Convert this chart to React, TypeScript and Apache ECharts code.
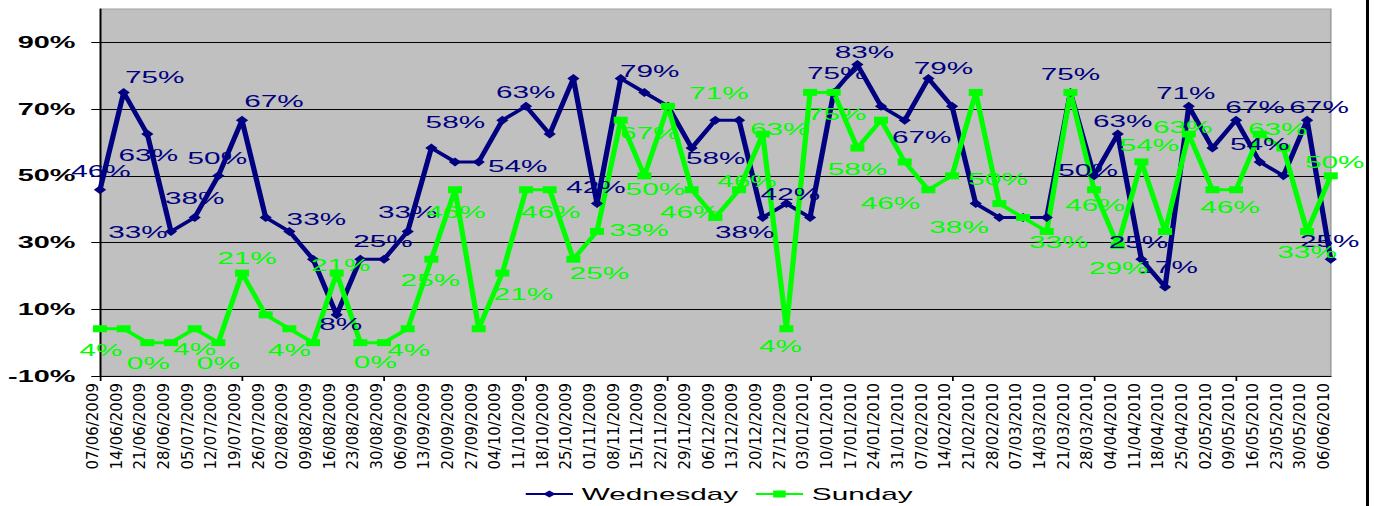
import React, { useEffect, useRef } from "react";
import * as echarts from "echarts";

const categories = [
  "07/06/2009", "14/06/2009", "21/06/2009", "28/06/2009", "05/07/2009", "12/07/2009", "19/07/2009",
  "26/07/2009", "02/08/2009", "09/08/2009", "16/08/2009", "23/08/2009", "30/08/2009", "06/09/2009",
  "13/09/2009", "20/09/2009", "27/09/2009", "04/10/2009", "11/10/2009", "18/10/2009", "25/10/2009",
  "01/11/2009", "08/11/2009", "15/11/2009", "22/11/2009", "29/11/2009", "06/12/2009", "13/12/2009",
  "20/12/2009", "27/12/2009", "03/01/2010", "10/01/2010", "17/01/2010", "24/01/2010", "31/01/2010",
  "07/02/2010", "14/02/2010", "21/02/2010", "28/02/2010", "07/03/2010", "14/03/2010", "21/03/2010",
  "28/03/2010", "04/04/2010", "11/04/2010", "18/04/2010", "25/04/2010", "02/05/2010", "09/05/2010",
  "16/05/2010", "23/05/2010", "30/05/2010", "06/06/2010",
];

const wednesday = [
  45.83, 75, 62.5, 33.33, 37.5, 50, 66.67, 37.5, 33.33, 25, 8.33, 25, 25, 33.33,
  58.33, 54.17, 54.17, 66.67, 70.83, 62.5, 79.17, 41.67, 79.17, 75, 70.83, 58.33, 66.67, 66.67,
  37.5, 41.67, 37.5, 75, 83.33, 70.83, 66.67, 79.17, 70.83, 41.67, 37.5, 37.5, 37.5, 75,
  50, 62.5, 25, 16.67, 70.83, 58.33, 66.67, 54.17, 50, 66.67, 25,
];

const sunday = [
  4.17, 4.17, 0, 0, 4.17, 0, 20.83, 8.33, 4.17, 0, 20.83, 0, 0, 4.17,
  25, 45.83, 4.17, 20.83, 45.83, 45.83, 25, 33.33, 66.67, 50, 70.83, 45.83, 37.5, 45.83,
  62.5, 4.17, 75, 75, 58.33, 66.67, 54.17, 45.83, 50, 75, 41.67, 37.5, 33.33, 75,
  45.83, 29.17, 54.17, 33.33, 62.5, 45.83, 45.83, 62.5, 58.33, 33.33, 50,
];

const yTickStart = -10;
const yTickStep = 20;
const yMax = 100;

// Label placement (style only): offset of each shown data label from its point, in page pixels
const wedLabelPlacement: Record<number, [number, number]> = {
  0: [1, -19], 1: [31, -15], 2: [1, 21], 3: [-33, 1], 4: [0, -19], 5: [-1, -18], 6: [32, -19],
  8: [27, -12], 10: [4, 9], 12: [-1, -18], 13: [0, -19], 14: [24, -26], 16: [39, 4], 19: [-24, -42],
  21: [-1, -17], 22: [29, -7], 25: [24, 10], 28: [-18, 15], 29: [4, -10], 31: [3, -19], 32: [7, -13],
  34: [17, 17], 35: [15, -10], 41: [0, -18], 42: [-6, -6], 43: [5, -13], 44: [-3, -17], 45: [3, -20],
  46: [-3, -13], 48: [19, -13], 49: [0, -18], 51: [12, -13], 52: [-1, -18],
};
const sunLabelPlacement: Record<number, [number, number]> = {
  0: [1, 21], 2: [1, 20], 4: [0, 20], 5: [0, 20], 6: [5, -15], 8: [0, 21], 10: [4, -8], 11: [15, 19],
  13: [1, 21], 14: [-1, 21], 15: [1, 22], 17: [21, 21], 19: [1, 22], 20: [26, 14], 21: [42, -1],
  22: [29, 13], 23: [11, 13], 24: [51, -13], 25: [-2, 22], 27: [8, -9], 28: [17, -5], 29: [-6, 17],
  31: [3, 22], 32: [0, 21], 35: [-38, 13], 36: [46, 3], 39: [-64, 10], 40: [12, 11], 42: [1, 15],
  43: [1, 23], 44: [8, -17], 46: [-6, -7], 48: [-6, 17], 49: [18, -5], 51: [0, 21], 52: [4, -14],
};

const W = 1374;
const H = 506;
const S = 1.75; // horizontal stretch of the reference picture
const FONT = "'Liberation Sans', Arial, sans-serif";
const NAVY = "#000080";
const GREEN = "#00ff00";

export default function App() {
  const mainRef = useRef<HTMLDivElement>(null);
  const overRef = useRef<HTMLDivElement>(null);

  useEffect(() => {
    if (!mainRef.current || !overRef.current) return;
    const main = echarts.init(mainRef.current, null, { renderer: "svg" });
    const over = echarts.init(overRef.current, null, { renderer: "svg" });

    const plotLeft = 100;
    const plotRight = 1331;
    const plotTop = 9;
    const plotBottom = 376;

    const mkData = (vals: number[], placement: Record<number, [number, number]>) =>
      vals.map((v, i) => {
        const p = placement[i];
        return p ? { value: v, label: { show: true, offset: [p[0] / S, p[1]] } } : { value: v };
      });

    const labelBase = (color: string) => ({
      show: false,
      position: "inside",
      formatter: (p: any) => Math.round(p.value) + "%",
      color,
      fontSize: 17,
      fontFamily: FONT,
    });

    main.setOption({
      animation: false,
      grid: {
        left: plotLeft / S,
        right: (W - plotRight) / S,
        top: plotTop,
        bottom: H - plotBottom,
        show: true,
        backgroundColor: "#c0c0c0",
        borderColor: "#a0a0a0",
        borderWidth: 1,
      },
      legend: {
        left: 524 / S,
        top: 484,
        padding: 0,
        itemWidth: 27,
        itemHeight: 9,
        itemGap: 9,
        textStyle: { fontSize: 17, lineHeight: 20, fontFamily: FONT, color: "#000" },
        data: ["Wednesday", "Sunday"],
      },
      xAxis: {
        type: "category",
        data: categories,
        boundaryGap: false,
        axisLine: { onZero: false, lineStyle: { color: "#000", width: 1 } },
        axisTick: { show: true, length: 5, lineStyle: { color: "#000" } },
        axisLabel: { show: false },
        splitLine: { show: false },
      },
      yAxis: {
        type: "value",
        min: yTickStart,
        max: yMax,
        interval: yTickStep,
        axisLine: { show: true, lineStyle: { color: "#000", width: 1 } },
        axisTick: { show: true, length: 5, lineStyle: { color: "#000" } },
        axisLabel: {
          formatter: (v: number) => (v >= yMax ? "" : v + "%"),
          showMaxLabel: false,
          fontSize: 16.5,
          fontWeight: "bold",
          fontFamily: FONT,
          color: "#000",
          margin: 14,
        },
        splitLine: { show: true, showMaxLine: false, showMinLine: false, lineStyle: { color: "#000", width: 1 } },
      },
      series: [
        {
          name: "Wednesday",
          type: "line",
          data: mkData(wednesday, wedLabelPlacement),
          symbol: "diamond",
          symbolSize: [7, 9],
          showSymbol: true,
          showAllSymbol: true,
          color: NAVY,
          lineStyle: { color: NAVY, width: 3 },
          itemStyle: { color: NAVY },
          label: labelBase(NAVY),
        },
        {
          name: "Sunday",
          type: "line",
          data: mkData(sunday, sunLabelPlacement),
          symbol: "rect",
          symbolSize: [8, 7],
          showSymbol: true,
          showAllSymbol: true,
          color: GREEN,
          lineStyle: { color: GREEN, width: 3 },
          itemStyle: { color: GREEN },
          label: labelBase(GREEN),
        },
      ],
    });

    over.setOption({
      animation: false,
      grid: { left: plotLeft - 7, right: W - plotRight + 7, top: plotTop, bottom: H - plotBottom },
      xAxis: {
        type: "category",
        data: categories,
        boundaryGap: false,
        axisLine: { show: false },
        axisTick: { show: false },
        splitLine: { show: false },
        axisLabel: {
          interval: 0,
          rotate: 90,
          margin: 7,
          fontSize: 15,
          fontFamily: "'DejaVu Sans', sans-serif",
          color: "#000",
        },
      },
      yAxis: { type: "value", show: false, min: yTickStart, max: yMax },
      series: [{ type: "line", data: [], silent: true }],
      graphic: [
        { type: "rect", left: 1366, top: 0, shape: { width: 3, height: H }, style: { fill: "#000" } },
      ],
    });

    return () => {
      main.dispose();
      over.dispose();
    };
  }, []);

  return (
    <div style={{ position: "absolute", left: 0, top: 0, width: W, height: H, overflow: "hidden", background: "#fff" }}>
      <div
        ref={mainRef}
        style={{
          position: "absolute",
          left: 0,
          top: 0,
          width: W / S,
          height: H,
          transform: `scaleX(${S})`,
          transformOrigin: "0 0",
        }}
      />
      <div
        ref={overRef}
        style={{ position: "absolute", left: 0, top: 0, width: W, height: H, pointerEvents: "none" }}
      />
    </div>
  );
}
